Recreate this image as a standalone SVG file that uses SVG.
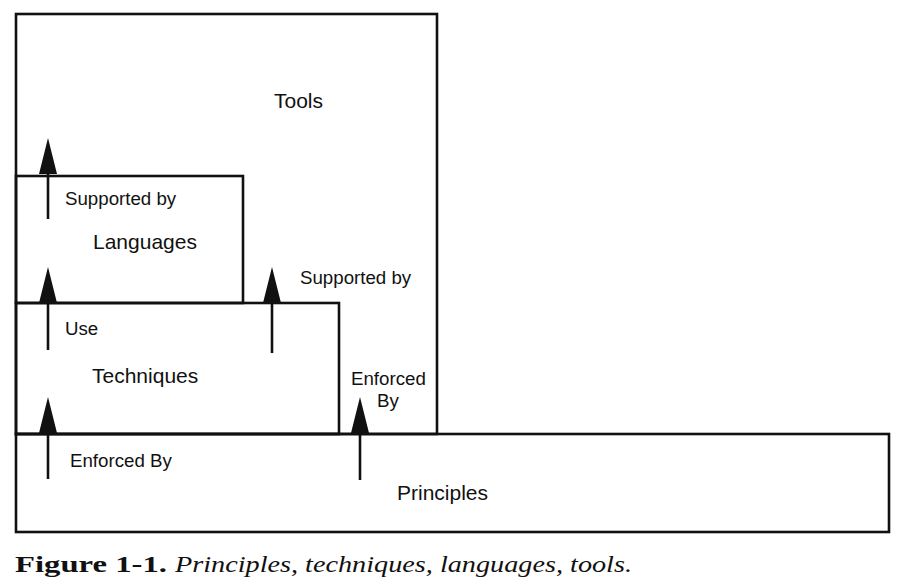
<svg xmlns="http://www.w3.org/2000/svg" width="901" height="585" viewBox="0 0 901 585">
<style>
.box{fill:none;stroke:#111;stroke-width:2.6}
.sh{stroke:#111;stroke-width:2.6;marker-end:url(#ah)}
.sm{font-family:"Liberation Sans",Arial,sans-serif;font-size:18.7px;fill:#111}
.lg{font-family:"Liberation Sans",Arial,sans-serif;font-size:21px;fill:#111}
.cb{font-family:"Liberation Serif","Times New Roman",serif;font-size:23px;font-weight:bold;fill:#111}
.ci{font-family:"Liberation Serif","Times New Roman",serif;font-size:23px;font-style:italic;fill:#111}
</style>
<defs>
<marker id="ah" viewBox="0 0 36 18" refX="0" refY="9" markerWidth="36" markerHeight="18" markerUnits="userSpaceOnUse" orient="auto">
<path d="M0,0 L36,9 L0,18 z" fill="#111"/>
</marker>
</defs>
<rect width="901" height="585" fill="#fff"/>
<g id="tools">
<rect class="box" x="16" y="14" width="421" height="420"/>
<text class="lg" x="274" y="108">Tools</text>
</g>
<g id="languages">
<rect class="box" x="16" y="176" width="227" height="127"/>
<text class="lg" x="93" y="249">Languages</text>
</g>
<g id="techniques">
<rect class="box" x="16" y="303" width="323" height="131"/>
<text class="lg" x="92" y="383">Techniques</text>
</g>
<g id="principles">
<rect fill="#fff" class="box" x="16" y="434" width="873" height="98"/>
<text class="lg" x="397" y="500">Principles</text>
</g>
<g id="connectors">
<line class="sh" x1="48" y1="219" x2="48" y2="174"/>
<line class="sh" x1="48" y1="350" x2="48" y2="303"/>
<line class="sh" x1="272" y1="353" x2="272" y2="303"/>
<line class="sh" x1="48" y1="479" x2="48" y2="433"/>
<line class="sh" x1="360" y1="480" x2="360" y2="433"/>
<text class="sm" x="65" y="205">Supported by</text>
<text class="sm" x="300" y="284">Supported by</text>
<text class="sm" x="65" y="335">Use</text>
<text class="sm" x="351" y="385">Enforced</text>
<text class="sm" x="377" y="407">By</text>
<text class="sm" x="70" y="467">Enforced By</text>
</g>
<g id="caption">
<text class="cb" x="15" y="572" textLength="152" lengthAdjust="spacingAndGlyphs">Figure 1-1.</text>
<text class="ci" x="175" y="572" textLength="457" lengthAdjust="spacingAndGlyphs">Principles, techniques, languages, tools.</text>
</g>
</svg>
